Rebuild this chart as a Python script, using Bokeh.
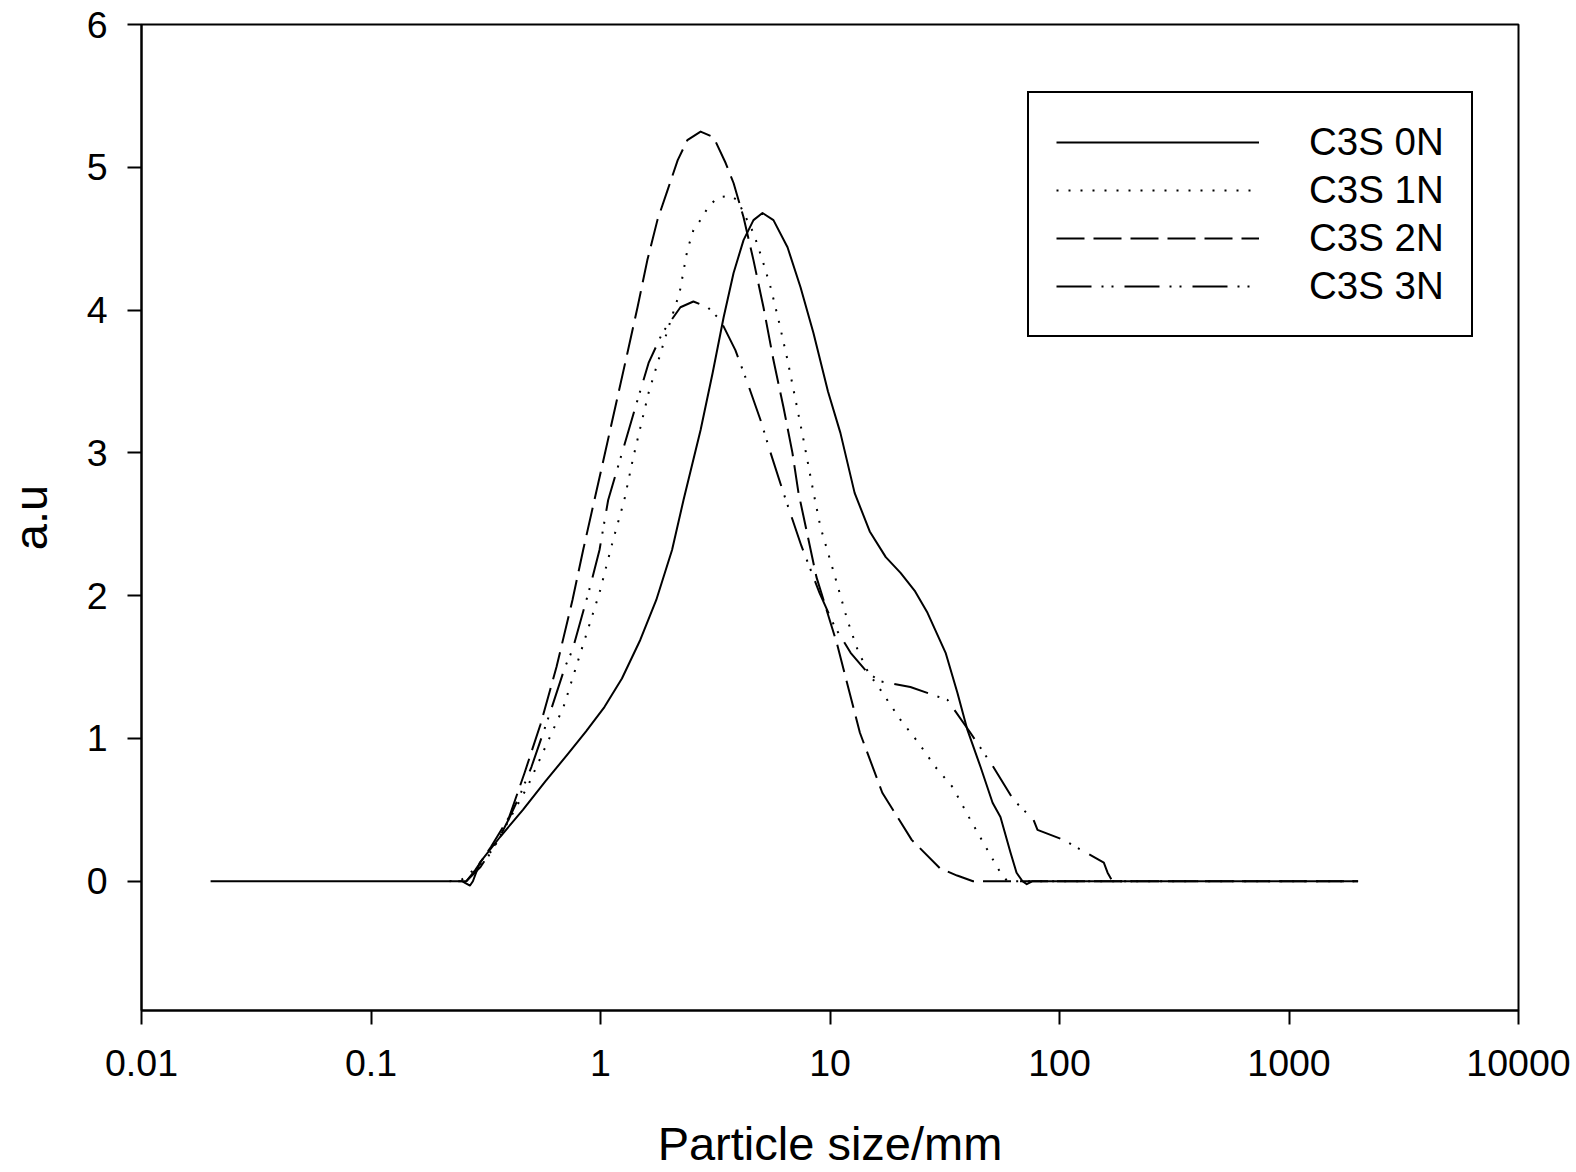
from bokeh.plotting import figure
from bokeh.models import Range1d, FixedTicker, CustomJSTickFormatter, Legend, LegendItem
from bokeh.embed import file_html
from bokeh.resources import INLINE

# ---------------- data ----------------
series_names = ["C3S 0N", "C3S 1N", "C3S 2N", "C3S 3N"]

x_0n = [0.02, 0.25, 0.27, 0.278, 0.298, 0.365, 0.459, 0.575, 0.72, 0.865, 1.04, 1.24, 1.49, 1.75,
        2.05, 2.30, 2.73, 3.08, 3.44, 3.80, 4.20, 4.64, 5.08, 5.67, 6.53, 7.44, 8.47, 9.8, 11.1,
        12.8, 14.9, 17.5, 20.3, 23.5, 26.6, 31.9, 35.9, 39.7, 45.3, 51.1, 55.3, 61.2, 65.0, 69.0,
        72.0, 76.0, 2000]
y_0n = [0, 0, -0.03, 0, 0.13, 0.31, 0.50, 0.70, 0.89, 1.05, 1.22, 1.42, 1.69, 1.97,
        2.32, 2.67, 3.16, 3.56, 3.95, 4.26, 4.49, 4.63, 4.68, 4.63, 4.44, 4.16, 3.84, 3.43, 3.14,
        2.72, 2.45, 2.27, 2.16, 2.03, 1.88, 1.60, 1.32, 1.06, 0.80, 0.55, 0.45, 0.20, 0.06, 0.0,
        -0.02, 0, 0]

x_1n = [0.22, 0.248, 0.318, 0.40, 0.48, 0.575, 0.69, 0.826, 0.99, 1.135, 1.27, 1.39, 1.62, 1.96,
        2.21, 2.39, 2.54, 2.78, 2.96, 3.27, 3.68, 3.95, 4.64, 5.08, 5.51, 5.97, 6.53, 7.08, 7.67,
        8.48, 9.09, 10.4, 11.9, 13.2, 14.7, 16.6, 20.3, 24.3, 28.8, 34.2, 40.9, 48.5, 55.3, 59.3,
        2000]
y_1n = [0, 0.01, 0.15, 0.43, 0.66, 0.94, 1.22, 1.62, 2.02, 2.39, 2.67, 2.97, 3.42, 3.86,
        4.12, 4.42, 4.56, 4.65, 4.73, 4.79, 4.80, 4.77, 4.54, 4.35, 4.16, 3.93, 3.65, 3.37, 3.09,
        2.72, 2.48, 2.16, 1.83, 1.62, 1.46, 1.34, 1.13, 0.97, 0.80, 0.66, 0.43, 0.22, 0.06, 0.0,
        0]

x_2n = [0.26, 0.285, 0.333, 0.40, 0.467, 0.548, 0.643, 0.755, 0.843, 0.95, 1.03, 1.31, 1.45,
        1.60, 1.77, 1.96, 2.17, 2.39, 2.73, 3.11, 3.51, 3.80, 4.20, 4.64, 5.13, 5.67, 6.27, 6.86,
        7.29, 8.73, 10.7, 13.5, 16.9, 22.7, 30.2, 35.8, 42.0, 2000]
y_2n = [0, 0.08, 0.24, 0.45, 0.76, 1.10, 1.50, 1.97, 2.33, 2.70, 2.95, 3.70, 4.02,
        4.35, 4.63, 4.84, 5.05, 5.19, 5.25, 5.21, 5.03, 4.89, 4.65, 4.35, 4.02, 3.65, 3.32, 3.00,
        2.72, 2.13, 1.67, 1.04, 0.62, 0.29, 0.09, 0.04, 0, 0]

x_3n = [0.24, 0.26, 0.30, 0.35, 0.40, 0.45, 0.50, 0.60, 0.70, 0.755, 0.90, 0.99, 1.08, 1.19,
        1.45, 1.62, 1.86, 2.23, 2.54, 2.93, 3.33, 3.87, 4.37, 4.98, 5.51, 6.27, 7.5, 9.0, 10.5,
        12.3, 14.6, 16.6, 22.4, 32.5, 40.9, 51.5, 63.0, 77.1, 80.2, 104, 156, 162, 170, 220]
y_3n = [0, 0, 0.10, 0.26, 0.44, 0.62, 0.80, 1.17, 1.50, 1.62, 2.06, 2.32, 2.67, 2.90,
        3.37, 3.63, 3.84, 4.02, 4.06, 4.02, 3.93, 3.72, 3.49, 3.23, 3.00, 2.72, 2.35, 2.02, 1.78,
        1.60, 1.46, 1.40, 1.36, 1.27, 1.04, 0.80, 0.57, 0.43, 0.36, 0.29, 0.13, 0.06, 0, 0]

x_ticks = [0.01, 0.1, 1, 10, 100, 1000, 10000]
y_ticks = [0, 1, 2, 3, 4, 5, 6]

# ---------------- figure ----------------
FONT = "Liberation Sans"

p = figure(width=1576, height=1172, x_axis_type="log",
           x_range=Range1d(0.01, 10000), y_range=Range1d(-0.905, 6),
           output_backend="svg", toolbar_location=None,
           min_border_left=141, min_border_right=58, min_border_top=24, min_border_bottom=161)

p.xgrid.visible = False
p.ygrid.visible = False
p.outline_line_color = "black"
p.outline_line_width = 2
p.background_fill_color = "white"
p.border_fill_color = "white"

styles = [
    dict(line_dash="solid"),
    dict(line_dash="2 10"),
    dict(line_dash="28 9"),
    dict(line_dash="35 10 2 8 2 11"),
]
xs = [x_0n, x_1n, x_2n, x_3n]
ys = [y_0n, y_1n, y_2n, y_3n]
renderers = []
for xv, yv, st in zip(xs, ys, styles):
    r = p.line(xv, yv, line_color="black", line_width=2, line_join="round", **st)
    renderers.append(r)

for ax in (p.xaxis[0], p.yaxis[0]):
    ax.axis_line_color = "black"
    ax.axis_line_width = 2
    ax.major_tick_line_color = "black"
    ax.major_tick_line_width = 2
    ax.major_tick_out = 14
    ax.major_tick_in = 0
    ax.minor_tick_out = 0
    ax.minor_tick_in = 0
    ax.major_label_text_font = FONT
    ax.major_label_text_font_size = "37.5px"
    ax.major_label_text_color = "black"
    ax.axis_label_text_font = FONT
    ax.axis_label_text_font_size = "47px"
    ax.axis_label_text_font_style = "normal"
    ax.axis_label_text_color = "black"

p.xaxis[0].ticker = FixedTicker(ticks=x_ticks, minor_ticks=[])
p.xaxis[0].formatter = CustomJSTickFormatter(code="return tick.toString();")
p.yaxis[0].ticker = FixedTicker(ticks=y_ticks, minor_ticks=[])
p.xaxis[0].axis_label = "Particle size/mm"
p.yaxis[0].axis_label = "a.u"
p.xaxis[0].major_label_standoff = 25
p.yaxis[0].major_label_standoff = 20
p.xaxis[0].axis_label_standoff = 38
p.yaxis[0].axis_label_standoff = 27

items = [LegendItem(label=n, renderers=[r]) for n, r in zip(series_names, renderers)]
legend = Legend(items=items, location=(886, 673), glyph_width=203, glyph_height=44,
                label_height=44, label_standoff=50, padding=27, spacing=4, margin=0,
                border_line_color="black", border_line_width=2, border_line_alpha=1,
                background_fill_color="white", background_fill_alpha=1,
                label_text_font=FONT, label_text_font_size="38.5px", label_text_color="black")
p.add_layout(legend)

open("out.html", "w").write(file_html(p, INLINE))
